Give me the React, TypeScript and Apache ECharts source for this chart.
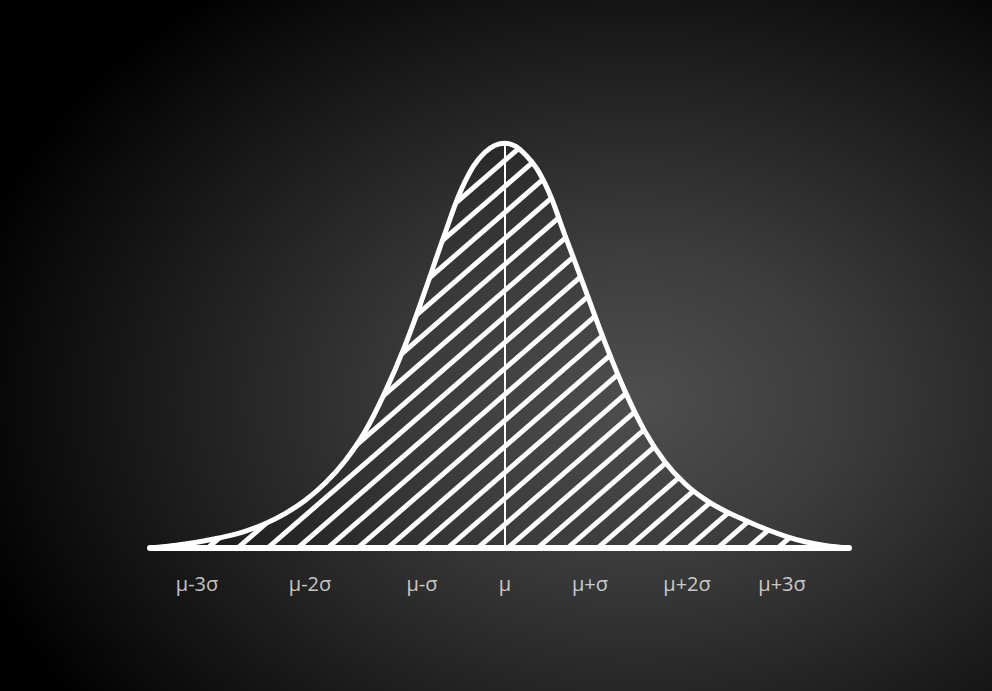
import { useEffect, useRef } from 'react';
import * as echarts from 'echarts';

// bell curve: x in hundreds of px from μ, y as curve height
const curveX = [
  -3.55, -3.4, -3.2, -3.0, -2.8, -2.6, -2.4, -2.2, -2.0, -1.8, -1.6, -1.4, -1.2, -1.0, -0.8,
  -0.6, -0.4, -0.2, 0, 0.2, 0.4, 0.6, 0.8, 1.0, 1.2, 1.4, 1.6, 1.8, 2.0, 2.2, 2.4, 2.6, 2.8,
  3.0, 3.2, 3.44,
];
const curveY = [
  0, 0.0015, 0.004, 0.0072, 0.0112, 0.0165, 0.024, 0.034, 0.047, 0.064, 0.086, 0.115, 0.154,
  0.2, 0.254, 0.311, 0.362, 0.391, 0.4, 0.389, 0.36, 0.309, 0.256, 0.203, 0.155, 0.115, 0.085,
  0.0635, 0.048, 0.0365, 0.0275, 0.019, 0.0118, 0.0062, 0.0025, 0,
];
const peakY = 0.4;

const sigmaLabels = ['μ-3σ', 'μ-2σ', 'μ-σ', 'μ', 'μ+σ', 'μ+2σ', 'μ+3σ'];
const sigmaPos = [-3.08, -1.95, -0.83, 0, 0.85, 1.82, 2.77];

function makeHatch() {
  const w = 30;
  const h = 26;
  const c = document.createElement('canvas');
  c.width = w;
  c.height = h;
  const ctx = c.getContext('2d')!;
  ctx.strokeStyle = '#ffffff';
  ctx.lineWidth = 5;
  for (const k of [-1, 0, 1]) {
    ctx.beginPath();
    ctx.moveTo(k * w - w / 2, h * 1.5);
    ctx.lineTo((k + 1) * w + w / 2, -h / 2);
    ctx.stroke();
  }
  return c;
}

export default function App() {
  const chartRef = useRef<HTMLDivElement>(null);

  useEffect(() => {
    document.body.style.margin = '0';
    if (!chartRef.current) return;
    const chart = echarts.init(chartRef.current, null, { renderer: 'svg' });

    chart.setOption({
      animation: false,
      backgroundColor: 'transparent',
      grid: { left: 150, right: 143, top: 42, bottom: 143 },
      xAxis: {
        type: 'value',
        min: -3.55,
        max: 3.44,
        axisLine: { lineStyle: { color: '#ffffff', width: 6 } },
        axisTick: { show: false },
        axisLabel: { show: false },
        splitLine: { show: false },
      },
      yAxis: { type: 'value', min: 0, max: 0.5, show: false },
      series: [
        {
          type: 'line',
          data: curveX.map((x, i) => [x, curveY[i]]),
          smooth: 0.4,
          symbol: 'none',
          z: 3,
          lineStyle: { color: '#ffffff', width: 5 },
          areaStyle: { color: { image: makeHatch(), repeat: 'repeat' }, opacity: 1 },
          markLine: {
            silent: true,
            symbol: 'none',
            label: { show: false },
            lineStyle: { color: '#ffffff', width: 2, type: 'solid' },
            data: [[{ coord: [0, 0] }, { coord: [0, peakY] }]],
          },
        },
        {
          type: 'scatter',
          symbolSize: 0,
          itemStyle: { color: 'transparent' },
          data: sigmaPos.map((x, i) => ({ value: [x, 0], name: sigmaLabels[i] })),
          label: {
            show: true,
            position: 'bottom',
            distance: 25,
            formatter: '{b}',
            color: '#f2f2f2',
            fontFamily: 'Open Sans',
            fontSize: 20,
          },
        },
      ],
    });

    return () => chart.dispose();
  }, []);

  return (
    <div
      ref={chartRef}
      style={{
        width: 992,
        height: 691,
        background:
          'radial-gradient(ellipse 70% 75% at 64% 58%, #4e4e4e 0%, #3c3c3c 30%, #232323 60%, #0b0b0b 88%, #000 100%)',
      }}
    />
  );
}
